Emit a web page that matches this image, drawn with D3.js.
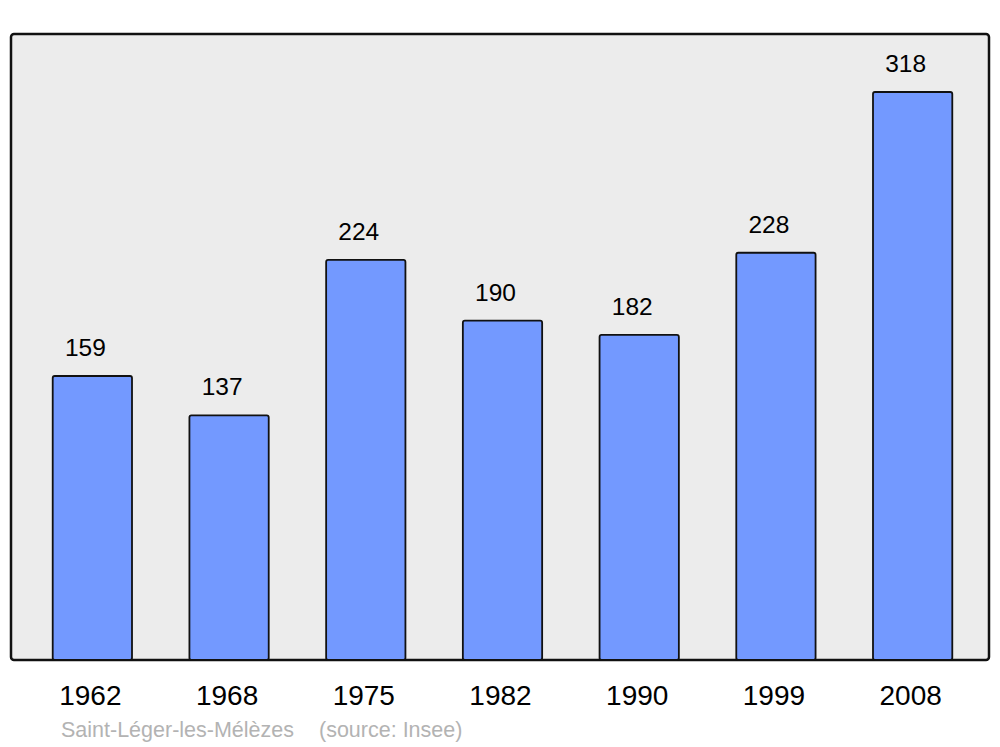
<!DOCTYPE html>
<html>
<head>
<meta charset="utf-8">
<script src="https://cdn.jsdelivr.net/npm/d3@7"></script>
<style>
  body { margin: 0; background: #fff; }
  text { font-family: "Liberation Sans", Arial, sans-serif; }
</style>
</head>
<body>
<script>
const years = ["1962", "1968", "1975", "1982", "1990", "1999", "2008"];
const population = [159, 137, 224, 190, 182, 228, 318];
const commune = "Saint-Léger-les-Mélèzes";
const source = "(source: Insee)";

const width = 1000, height = 747;
const frame = { left: 11, top: 34, right: 989, bottom: 660 };

const svg = d3.select("body")
    .append("svg")
    .attr("width", width)
    .attr("height", height);

// plot background
svg.append("rect")
    .attr("x", frame.left)
    .attr("y", frame.top)
    .attr("width", frame.right - frame.left)
    .attr("height", frame.bottom - frame.top)
    .attr("rx", 3)
    .attr("fill", "#ececec")
    .attr("stroke", "#111")
    .attr("stroke-width", 2.5);

const x = d3.scaleBand()
    .domain(years)
    .range([24, 981])
    .paddingInner(0.42)
    .paddingOuter(0.21);

const y = d3.scaleLinear()
    .domain([0, 318])
    .range([frame.bottom, 92]);

// bars
svg.selectAll("rect.bar")
    .data(population)
    .join("rect")
    .attr("class", "bar")
    .attr("x", (d, i) => x(years[i]))
    .attr("y", d => y(d))
    .attr("width", x.bandwidth())
    .attr("height", d => frame.bottom - y(d))
    .attr("rx", 2)
    .attr("fill", "#7399ff")
    .attr("stroke", "#111")
    .attr("stroke-width", 1.8);

// value labels
svg.selectAll("text.value")
    .data(population)
    .join("text")
    .attr("class", "value")
    .attr("x", (d, i) => x(years[i]) + x.bandwidth() / 2 - 7)
    .attr("y", d => y(d) - 20)
    .attr("text-anchor", "middle")
    .attr("font-size", 24.5)
    .attr("fill", "#000")
    .text(d => d);

// year labels
svg.selectAll("text.year")
    .data(years)
    .join("text")
    .attr("class", "year")
    .attr("x", d => x(d) + x.bandwidth() / 2 - 2)
    .attr("y", 705)
    .attr("text-anchor", "middle")
    .attr("font-size", 28)
    .attr("fill", "#000")
    .text(d => d);

// caption
svg.append("text")
    .attr("x", 61)
    .attr("y", 737)
    .attr("font-size", 21.5)
    .attr("fill", "#b3b3b3")
    .text(commune);

svg.append("text")
    .attr("x", 319)
    .attr("y", 737)
    .attr("font-size", 21.5)
    .attr("fill", "#b3b3b3")
    .text(source);
</script>
</body>
</html>
